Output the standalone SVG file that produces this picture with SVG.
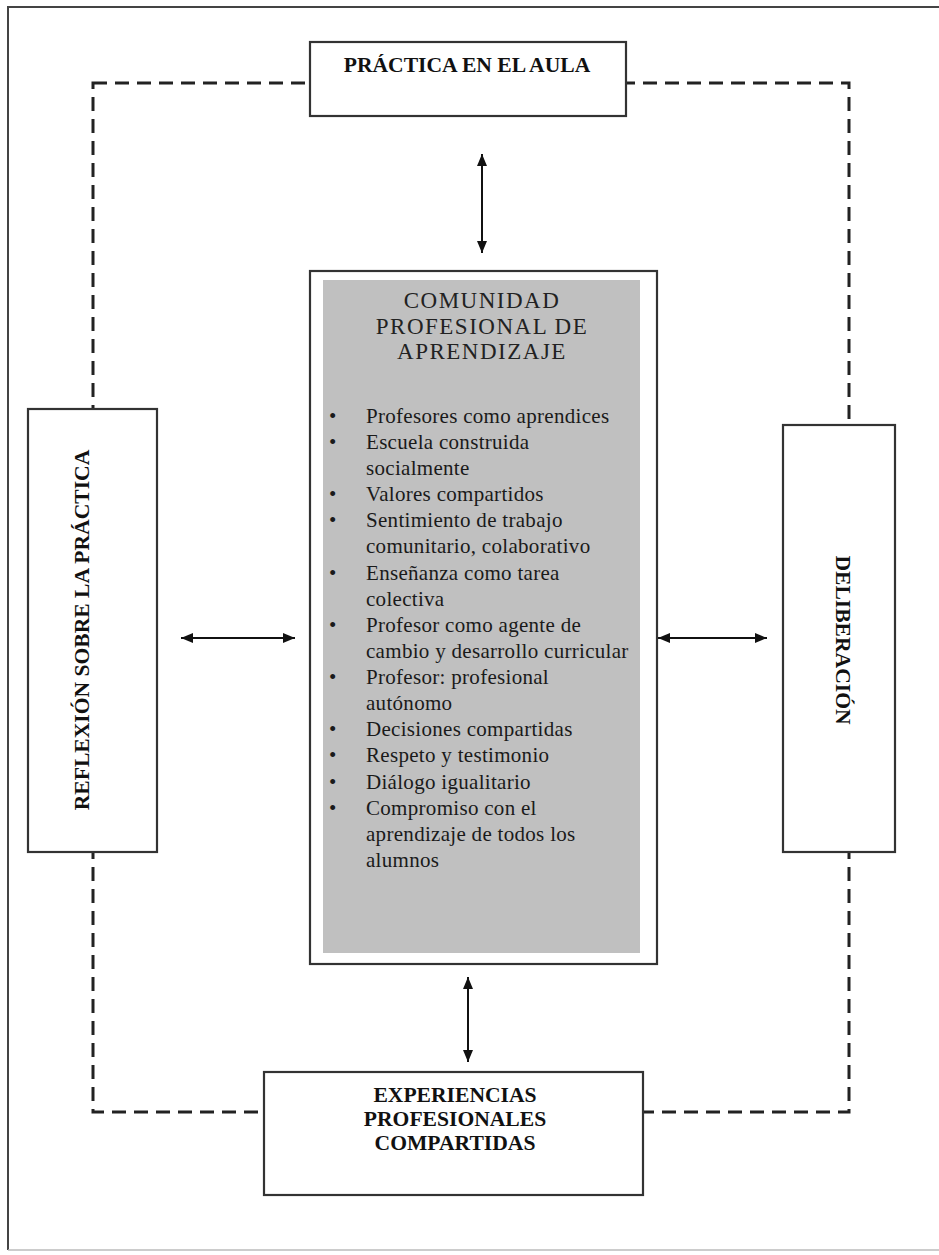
<svg xmlns="http://www.w3.org/2000/svg" width="939" height="1255" viewBox="0 0 939 1255">
<defs>
<marker id="ah" viewBox="0 0 12 10" refX="12" refY="5" markerWidth="12" markerHeight="10" markerUnits="userSpaceOnUse" orient="auto-start-reverse">
<path d="M0,0 L12,5 L0,10 z" fill="#111"/>
</marker>
<style>
.box{fill:#fff;stroke:#333;stroke-width:2.2}
.lbl{font-family:"Liberation Serif","Times New Roman",serif;font-weight:bold;font-size:21.6px;fill:#111;text-anchor:middle}
.title{font-family:"Liberation Serif","Times New Roman",serif;font-size:23px;letter-spacing:1.5px;fill:#222;text-anchor:middle}
.item{font-family:"Liberation Serif","Times New Roman",serif;font-size:21px;letter-spacing:0.3px;fill:#1a1a1a}
.dash{fill:none;stroke:#222;stroke-width:3;stroke-dasharray:14 8}
.conn{stroke:#111;stroke-width:2;fill:none;marker-start:url(#ah);marker-end:url(#ah)}
</style>
</defs>
<rect x="0" y="0" width="939" height="1255" fill="#fff"/>
<g id="frame">
<path d="M8,1250 L8,7 L939,7" fill="none" stroke="#444" stroke-width="2"/>
<line x1="8" y1="1250" x2="939" y2="1250" stroke="#bbb" stroke-width="1.5"/>
</g>
<g id="cycle">
<rect class="dash" x="93" y="83" width="756" height="1029"/>
</g>
<g id="connectors">
<line class="conn" x1="482" y1="154" x2="482" y2="253"/>
<line class="conn" x1="468" y1="977" x2="468" y2="1062"/>
<line class="conn" x1="181" y1="638" x2="295" y2="638"/>
<line class="conn" x1="658" y1="638" x2="767" y2="638"/>
</g>
<g id="practica">
<rect class="box" x="310" y="42" width="316" height="74"/>
<text class="lbl" x="467" y="72">PRÁCTICA EN EL AULA</text>
</g>
<g id="reflexion">
<rect class="box" x="28" y="409" width="129" height="443"/>
<text class="lbl" transform="translate(89,630) rotate(-90)">REFLEXIÓN SOBRE LA PRÁCTICA</text>
</g>
<g id="deliberacion">
<rect class="box" x="783" y="425" width="112" height="427"/>
<text class="lbl" transform="translate(836,640) rotate(90)">DELIBERACIÓN</text>
</g>
<g id="experiencias">
<rect class="box" x="264" y="1072" width="379" height="123"/>
<text class="lbl" x="455" y="1102">EXPERIENCIAS</text>
<text class="lbl" x="455" y="1126">PROFESIONALES</text>
<text class="lbl" x="455" y="1150">COMPARTIDAS</text>
</g>
<g id="comunidad">
<rect class="box" x="310" y="271" width="347" height="693"/>
<rect x="323" y="280" width="317" height="673" fill="#c0c0c0"/>
<text class="title" x="482" y="308">COMUNIDAD</text>
<text class="title" x="482" y="334">PROFESIONAL DE</text>
<text class="title" x="482" y="359">APRENDIZAJE</text>
<g class="item">
<text x="329" y="423">•</text><text x="366" y="423">Profesores como aprendices</text>
<text x="329" y="449">•</text><text x="366" y="449">Escuela construida</text>
<text x="366" y="475">socialmente</text>
<text x="329" y="501">•</text><text x="366" y="501">Valores compartidos</text>
<text x="329" y="527">•</text><text x="366" y="527">Sentimiento de trabajo</text>
<text x="366" y="553">comunitario, colaborativo</text>
<text x="329" y="580">•</text><text x="366" y="580">Enseñanza como tarea</text>
<text x="366" y="606">colectiva</text>
<text x="329" y="632">•</text><text x="366" y="632">Profesor como agente de</text>
<text x="366" y="658">cambio y desarrollo curricular</text>
<text x="329" y="684">•</text><text x="366" y="684">Profesor: profesional</text>
<text x="366" y="710">autónomo</text>
<text x="329" y="736">•</text><text x="366" y="736">Decisiones compartidas</text>
<text x="329" y="762">•</text><text x="366" y="762">Respeto y testimonio</text>
<text x="329" y="789">•</text><text x="366" y="789">Diálogo igualitario</text>
<text x="329" y="815">•</text><text x="366" y="815">Compromiso con el</text>
<text x="366" y="841">aprendizaje de todos los</text>
<text x="366" y="867">alumnos</text>
</g>
</g>
</svg>
